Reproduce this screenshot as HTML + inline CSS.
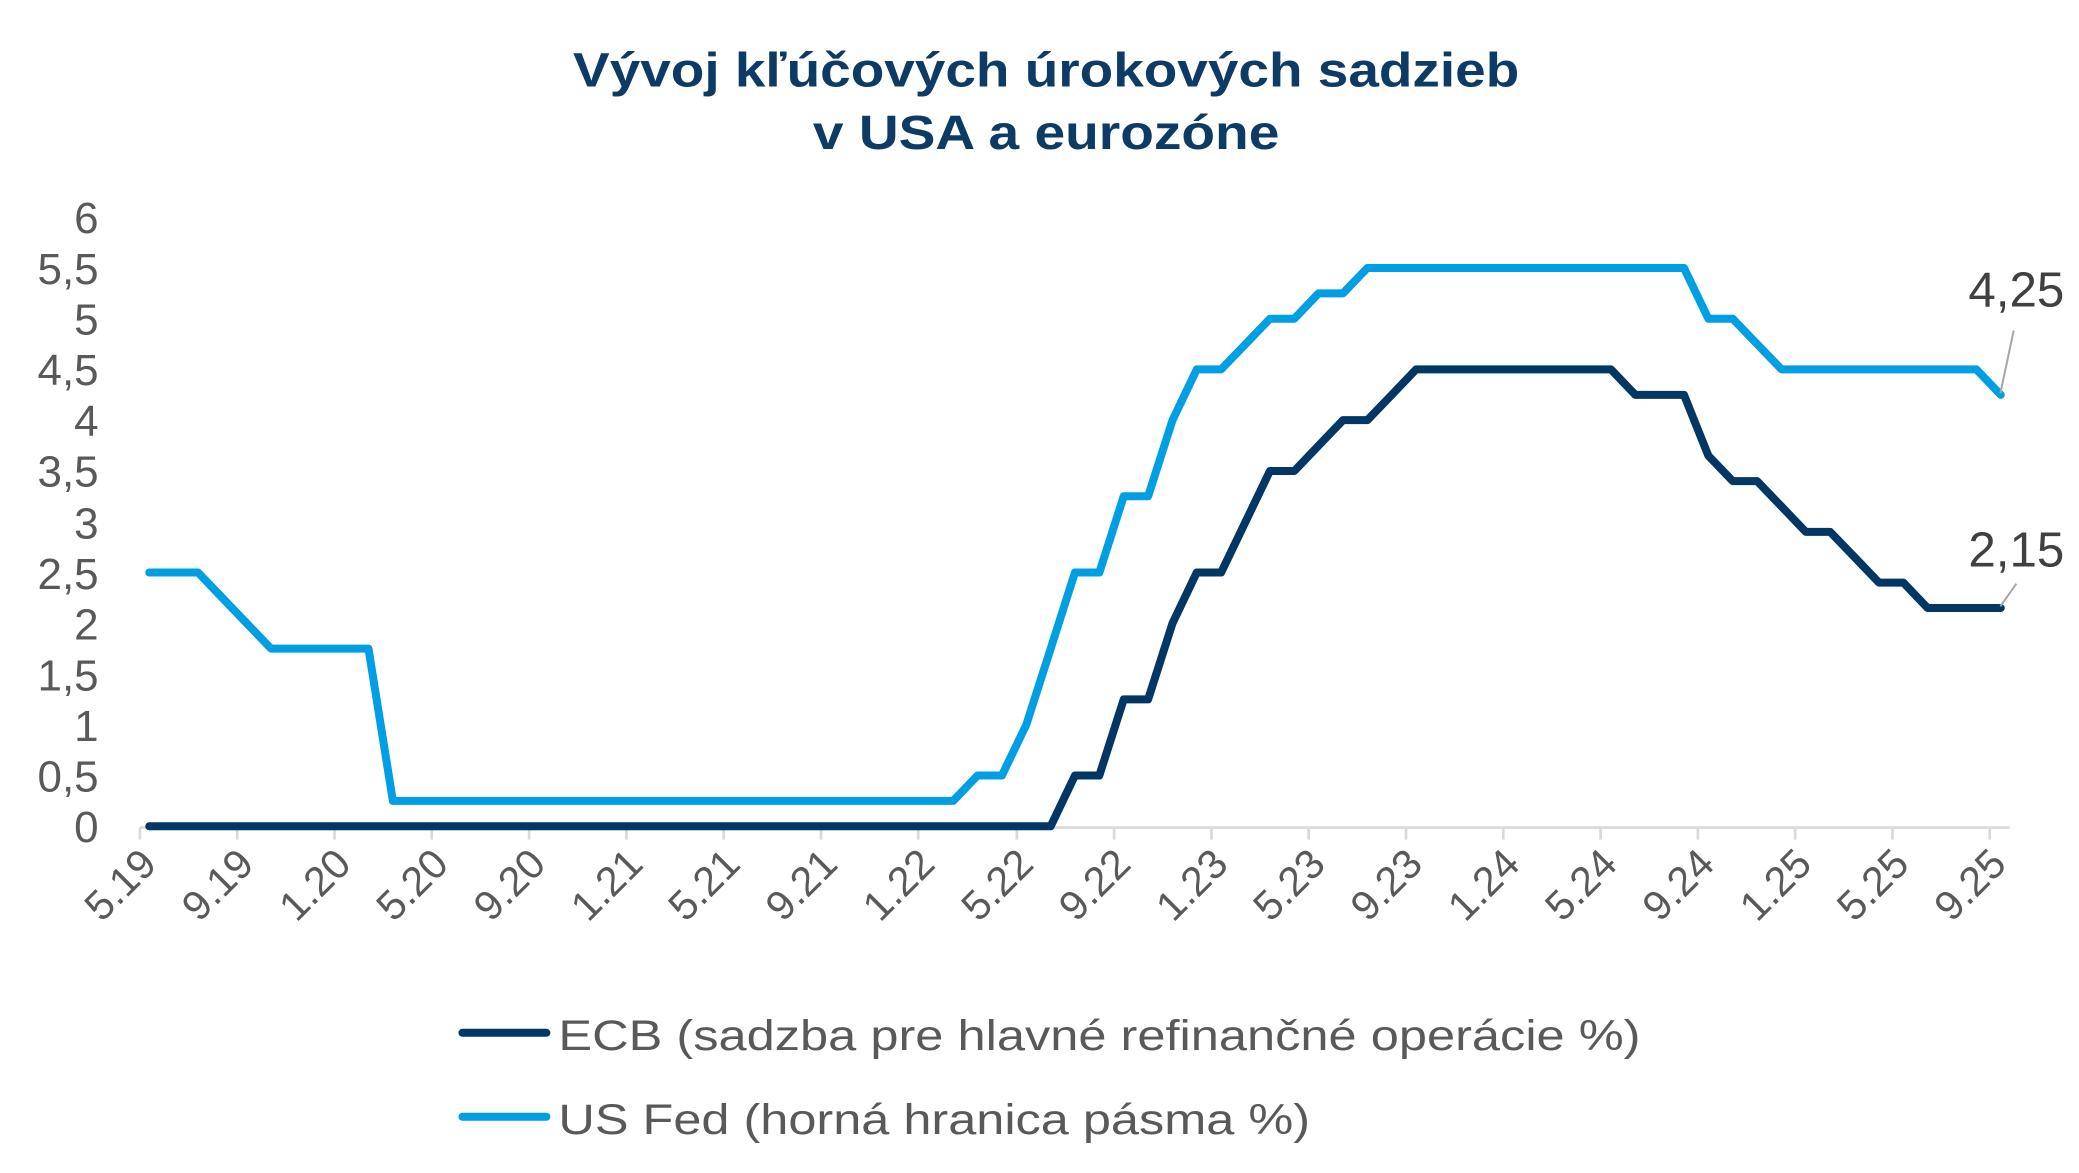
<!DOCTYPE html>
<html><head><meta charset="utf-8"><style>
html,body{margin:0;padding:0;background:#fff;}
svg{display:block;}
</style></head><body>
<svg width="2079" height="1173" viewBox="0 0 1560 880.2" preserveAspectRatio="none" xmlns="http://www.w3.org/2000/svg" font-family="Liberation Sans, Arial, sans-serif">
<g fill="#0e3a66" font-weight="bold" font-size="36" text-anchor="middle">
<text x="785" y="65" textLength="710" lengthAdjust="spacingAndGlyphs">Vývoj kľúčových úrokových sadzieb</text>
<text x="785" y="112" textLength="350" lengthAdjust="spacingAndGlyphs">v USA a eurozóne</text>
</g>
<g fill="#595959" font-size="33" text-anchor="end">
<text x="74" y="632">0</text><text x="74" y="594">0,5</text><text x="74" y="556">1</text><text x="74" y="518">1,5</text><text x="74" y="480">2</text><text x="74" y="442">2,5</text><text x="74" y="404">3</text><text x="74" y="365">3,5</text><text x="74" y="327">4</text><text x="74" y="289">4,5</text><text x="74" y="251">5</text><text x="74" y="213">5,5</text><text x="74" y="175">6</text>
</g>
<g stroke="#d9d9d9" stroke-width="2">
<line x1="105" y1="621" x2="1508" y2="621"/>
<path d="M105 621v9M178 621v9M251 621v9M324 621v9M397 621v9M470 621v9M543 621v9M616 621v9M689 621v9M763 621v9M836 621v9M909 621v9M982 621v9M1055 621v9M1128 621v9M1201 621v9M1274 621v9M1347 621v9M1420 621v9M1493 621v9"/>
</g>
<g fill="#595959" font-size="31" text-anchor="end">
<text transform="translate(119,650) rotate(-45)">5.19</text>
<text transform="translate(192,650) rotate(-45)">9.19</text>
<text transform="translate(265,650) rotate(-45)">1.20</text>
<text transform="translate(338,650) rotate(-45)">5.20</text>
<text transform="translate(411,650) rotate(-45)">9.20</text>
<text transform="translate(484,650) rotate(-45)">1.21</text>
<text transform="translate(557,650) rotate(-45)">5.21</text>
<text transform="translate(630,650) rotate(-45)">9.21</text>
<text transform="translate(703,650) rotate(-45)">1.22</text>
<text transform="translate(777,650) rotate(-45)">5.22</text>
<text transform="translate(850,650) rotate(-45)">9.22</text>
<text transform="translate(923,650) rotate(-45)">1.23</text>
<text transform="translate(996,650) rotate(-45)">5.23</text>
<text transform="translate(1069,650) rotate(-45)">9.23</text>
<text transform="translate(1142,650) rotate(-45)">1.24</text>
<text transform="translate(1215,650) rotate(-45)">5.24</text>
<text transform="translate(1288,650) rotate(-45)">9.24</text>
<text transform="translate(1361,650) rotate(-45)">1.25</text>
<text transform="translate(1434,650) rotate(-45)">5.25</text>
<text transform="translate(1507,650) rotate(-45)">9.25</text>
</g>
<g fill="none" stroke-width="6" stroke-linejoin="round" stroke-linecap="round">
<polyline stroke="#009fe3" points="112,429.6 148.6,429.6 166.8,448.6 185.1,467.7 203.4,486.7 276.5,486.7 294.8,601 715.2,601 733.5,581.9 751.8,581.9 770.1,543.8 788.4,486.7 806.6,429.6 824.9,429.6 843.2,372.4 861.5,372.4 879.8,315.3 898,277.2 916.3,277.2 934.6,258.2 952.9,239.2 971.2,239.2 989.4,220.1 1007.7,220.1 1026,201.1 1263.6,201.1 1281.9,239.2 1300.2,239.2 1318.5,258.2 1336.8,277.2 1483,277.2 1501.3,296.3"/>
<polyline stroke="#003764" points="112,620 788.4,620 806.6,581.9 824.9,581.9 843.2,524.8 861.5,524.8 879.8,467.7 898,429.6 916.3,429.6 934.6,391.5 952.9,353.4 971.2,353.4 989.4,334.4 1007.7,315.3 1026,315.3 1044.3,296.3 1062.6,277.2 1208.8,277.2 1227.1,296.3 1263.6,296.3 1281.9,342 1300.2,361 1318.5,361 1336.8,380.1 1355,399.1 1373.3,399.1 1391.6,418.1 1409.9,437.2 1428.2,437.2 1446.4,456.2 1501.3,456.2"/>
</g>
<g stroke="#a6a6a6" stroke-width="1.5">
<line x1="1511" y1="248" x2="1501" y2="295"/>
<line x1="1513" y1="438" x2="1501" y2="455"/>
</g>
<g fill="#404040" font-size="37" text-anchor="end">
<text x="1549" y="230">4,25</text>
<text x="1549" y="425">2,15</text>
</g>
<g stroke-width="6" stroke-linecap="round">
<line x1="347" y1="775" x2="410" y2="775" stroke="#003764"/>
<line x1="347" y1="838" x2="410" y2="838" stroke="#009fe3"/>
</g>
<g fill="#595959" font-size="32">
<text x="419" y="788" textLength="812" lengthAdjust="spacingAndGlyphs">ECB (sadzba pre hlavné refinančné operácie %)</text>
<text x="419" y="851" textLength="564" lengthAdjust="spacingAndGlyphs">US Fed (horná hranica pásma %)</text>
</g>
</svg>
</body></html>
